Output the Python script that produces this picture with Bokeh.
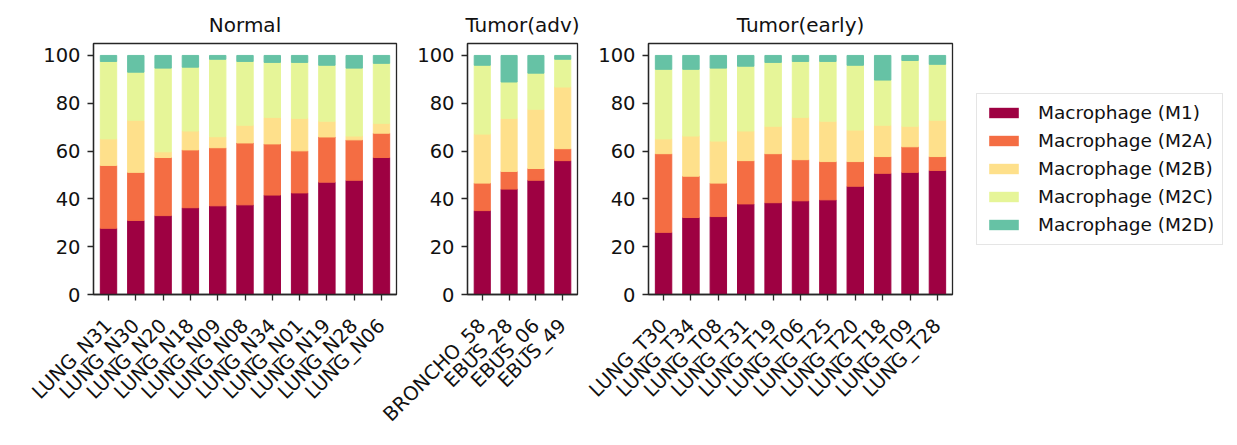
import math
from bokeh.plotting import figure
from bokeh.models import ColumnDataSource, Range1d, FixedTicker, Legend, LegendItem
from bokeh.layouts import row
from bokeh.embed import file_html
from bokeh.resources import INLINE

keys = ["M1", "M2A", "M2B", "M2C", "M2D"]
labels = ["Macrophage (M1)", "Macrophage (M2A)", "Macrophage (M2B)",
          "Macrophage (M2C)", "Macrophage (M2D)"]
colors = ["#9e0142", "#f46d43", "#fee08b", "#e6f598", "#66c2a5"]

normal_samples = ["LUNG_N31", "LUNG_N30", "LUNG_N20", "LUNG_N18", "LUNG_N09", "LUNG_N08",
                  "LUNG_N34", "LUNG_N01", "LUNG_N19", "LUNG_N28", "LUNG_N06"]
normal_M1 = [27.7, 31.0, 33.0, 36.3, 37.1, 37.5, 41.6, 42.5, 47.0, 47.8, 57.3]
normal_M2A = [26.3, 20.1, 24.3, 24.2, 24.3, 25.9, 21.4, 17.6, 18.9, 16.9, 10.2]
normal_M2B = [11.1, 21.8, 2.4, 7.9, 4.6, 7.4, 11.1, 13.6, 6.6, 1.6, 4.1]
normal_M2C = [32.4, 20.1, 35.0, 26.7, 32.4, 26.7, 23.0, 23.4, 23.4, 28.4, 25.1]
normal_M2D = [2.5, 7.0, 5.3, 4.9, 1.6, 2.5, 2.9, 2.9, 4.1, 5.3, 3.3]

adv_samples = ["BRONCHO_58", "EBUS_28", "EBUS_06", "EBUS_49"]
adv_M1 = [35.1, 44.1, 47.8, 56.0]
adv_M2A = [11.5, 7.4, 4.9, 5.0]
adv_M2B = [20.5, 22.2, 24.8, 25.8]
adv_M2C = [28.8, 15.2, 15.1, 11.6]
adv_M2D = [4.1, 11.1, 7.4, 1.6]

early_samples = ["LUNG_T30", "LUNG_T34", "LUNG_T08", "LUNG_T31", "LUNG_T19", "LUNG_T06",
                 "LUNG_T25", "LUNG_T20", "LUNG_T18", "LUNG_T09", "LUNG_T28"]
early_M1 = [26.0, 32.2, 32.6, 37.9, 38.4, 39.2, 39.6, 45.3, 50.7, 51.1, 51.9]
early_M2A = [32.9, 17.3, 14.0, 18.1, 20.5, 17.2, 16.0, 10.3, 7.0, 10.7, 5.8]
early_M2B = [6.2, 16.8, 17.6, 12.4, 11.5, 17.7, 16.9, 13.2, 13.1, 8.6, 15.2]
early_M2C = [29.1, 27.9, 30.5, 27.1, 26.7, 23.4, 25.0, 27.1, 18.9, 27.5, 23.4]
early_M2D = [5.8, 5.8, 5.3, 4.5, 2.9, 2.5, 2.5, 4.1, 10.3, 2.1, 3.7]

y_ticks = [0, 20, 40, 60, 80, 100]

INK = "#262626"
FONT = "DejaVu Sans"
H = 437
TOP = 43
FRAME_H = 255


def stack_source(samples, series):
    data = {"x": list(range(len(samples)))}
    for k, s in zip(keys, series):
        data[k] = s
    return ColumnDataSource(data)


def make_panel(title, samples, series, width, mbl, mbr):
    n = len(samples)
    src = stack_source(samples, series)
    p = figure(width=width, height=H, title=title,
               x_range=Range1d(-0.55, n - 1 + 0.55), y_range=Range1d(0, 105),
               output_backend="svg", toolbar_location=None,
               min_border_left=mbl, min_border_right=mbr,
               min_border_top=TOP, min_border_bottom=H - TOP - FRAME_H)
    p.border_fill_color = None
    rs = p.vbar_stack(keys, x="x", width=0.6, color=colors, source=src)
    p.title.text_font_size = "20px"
    p.title.text_font_style = "normal"
    p.title.text_font = FONT
    p.title.text_color = "#111111"
    p.title.align = "center"
    p.title.standoff = 13
    p.outline_line_color = INK
    p.outline_line_width = 1.3
    p.outline_line_alpha = 1.0
    p.grid.grid_line_color = None
    for ax in p.axis:
        ax.axis_line_color = INK
        ax.axis_line_width = 1.3
        ax.major_tick_line_color = INK
        ax.major_tick_line_width = 1.3
        ax.major_tick_out = 6
        ax.major_tick_in = 0
        ax.minor_tick_line_color = None
        ax.major_label_text_font = FONT
        ax.major_label_text_font_size = "19.5px"
        ax.major_label_text_color = "#111111"
        ax.major_label_standoff = 7
    p.yaxis.ticker = FixedTicker(ticks=y_ticks)
    p.xaxis.ticker = FixedTicker(ticks=list(range(n)))
    p.xaxis.major_label_overrides = {i: s for i, s in enumerate(samples)}
    p.xaxis.major_label_orientation = math.pi / 4
    p.xaxis.major_label_standoff = 22
    return p, rs


early_series = [early_M1, early_M2A, early_M2B, early_M2C, early_M2D]

p1, _ = make_panel("Normal", normal_samples,
                   [normal_M1, normal_M2A, normal_M2B, normal_M2C, normal_M2D],
                   401, 93, 5)
p2, _ = make_panel("Tumor(adv)", adv_samples,
                   [adv_M1, adv_M2A, adv_M2B, adv_M2C, adv_M2D],
                   221, 106, 5)
p2.margin = (0, 0, 0, -40)
p3, _ = make_panel("Tumor(early)", early_samples, early_series, 375, 66, 5)

# legend-only panel: zero-width, stroke-less stack outside the visible range;
# only its legend swatches are seen
p4 = figure(width=272, height=H, x_range=Range1d(-0.55, 10.55), y_range=Range1d(1000, 1001),
            output_backend="svg", toolbar_location=None,
            x_axis_location=None, y_axis_location=None,
            min_border_left=0, min_border_right=0,
            min_border_top=TOP, min_border_bottom=H - TOP - FRAME_H)
p4.outline_line_color = None
p4.grid.grid_line_color = None
p4.border_fill_color = None
p4.background_fill_color = None
rs4 = p4.vbar_stack(keys, x="x", width=0, fill_color=colors, line_color=None,
                    source=stack_source(early_samples, early_series))

legend = Legend(items=[LegendItem(label=l, renderers=[r]) for l, r in zip(labels, rs4)],
                location="center_left")
legend.label_text_font = FONT
legend.label_text_font_size = "18.5px"
legend.label_text_color = "#111111"
legend.glyph_width = 37
legend.glyph_height = 13
legend.label_height = 22
legend.label_standoff = 16
legend.spacing = 6
legend.padding = 8
legend.margin = 19
legend.border_line_color = "#cccccc"
legend.border_line_width = 1.3
legend.background_fill_alpha = 0.8
p4.add_layout(legend)

layout = row(p1, p2, p3, p4)
open("out.html", "w").write(file_html(layout, INLINE))
